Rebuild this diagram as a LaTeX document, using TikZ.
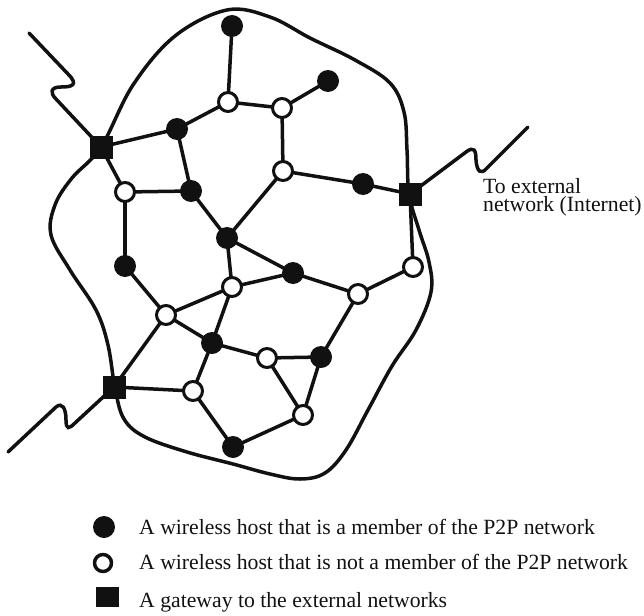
\documentclass[tikz,border=0pt]{standalone}
\usepackage{fontspec}
\setmainfont{Liberation Serif}
\pgfdeclarelayer{bg}
\pgfsetlayers{bg,main}
\definecolor{ink}{HTML}{111111}
\begin{document}
\begin{tikzpicture}[x=1pt,y=-1pt,
  line join=round,
  mem/.style={circle,fill=ink,minimum size=22pt,inner sep=0pt},
  non/.style={circle,draw=ink,fill=white,line width=3pt,minimum size=19pt,inner sep=0pt},
  gw/.style={rectangle,fill=ink,minimum size=23pt,inner sep=0pt},
  lbl/.style={font=\fontsize{21.7}{18}\selectfont,inner sep=0pt,anchor=base west,text=ink},
  wire/.style={draw=ink,line width=3.5pt},
  curve/.style={draw=ink,line width=3.5pt,line cap=round}
]
\useasboundingbox (0,0) rectangle (644,615);

% nodes
\node[mem] (F1) at (232,26) {};
\node[mem] (F2) at (328,81) {};
\node[non] (O1) at (228,102) {};
\node[non] (O2) at (282,108) {};
\node[mem] (F3) at (177,129) {};
\node[gw]  (G1) at (101,147) {};
\node[non] (O3) at (125,192) {};
\node[mem] (F4) at (191,191) {};
\node[non] (O4) at (283,171) {};
\node[mem] (F5) at (363,184) {};
\node[gw]  (G2) at (410,194) {};
\node[mem] (F6) at (227,238) {};
\node[mem] (F7) at (125,266) {};
\node[mem] (F8) at (293,273) {};
\node[non] (O5) at (232,287) {};
\node[non] (O6) at (166,315) {};
\node[non] (O7) at (413,267) {};
\node[non] (O8) at (358,294) {};
\node[mem] (F9) at (212,343) {};
\node[non] (O9) at (267,358) {};
\node[mem] (F10) at (321,357) {};
\node[gw]  (G3) at (114,387) {};
\node[non] (O10) at (193,391) {};
\node[non] (O11) at (303,415) {};
\node[mem] (F11) at (233,447) {};

\coordinate (E1) at (29,33);
\coordinate (E2) at (528,127);
\coordinate (E3) at (8,452);

\begin{pgfonlayer}{bg}
% boundary of the P2P network
\draw[curve] plot[smooth cycle, tension=0.6] coordinates {
  (227,10) (270,17) (310,38) (355,60) (390,83) (404,112) (407,150)
  (409,194) (419,230) (429,262) (431,292) (416,330) (392,366) (368,410)
  (346,450) (325,473) (300,479) (270,474) (233,464) (187,452) (145,437)
  (124,419) (115,388) (108,345) (96,310) (70,270) (51,235) (55,205)
  (72,178) (101,147) (133,85) (175,36)};

% links to external networks
\draw[curve] (E1) -- (68,74) .. controls (79,85) and (72,87) .. (61,87)
  .. controls (50,87) and (50,93) .. (56,99) -- (G1.center);
\draw[curve] (G2.center) -- (466,152) .. controls (474,146) and (476,150) .. (476,160)
  .. controls (477,172) and (481,175) .. (487,168) -- (E2);
\draw[curve] (G3.center) -- (75,423) .. controls (69,429) and (66,430) .. (66,420)
  .. controls (66,408) and (62,402) .. (56,407) -- (E3);

% wireless links
\foreach \a/\b in {F1/O1, O1/O2, O2/F2, O1/F3, G1/F3, F3/F4, G1/O3, O3/F4,
  O3/F7, F4/F6, O2/O4, O4/F6, O4/F5, F5/G2, G2/O7, O7/O8, O8/F8, F8/F6,
  F6/O5, O5/F8, F7/O6, O6/O5, O6/F9, O5/F9, G3/O6, G3/O10, F9/O10, F9/O9,
  O9/F10, O9/O11, F10/O11, O10/F11, F11/O11, O8/F10}
  \draw[wire] (\a.center) -- (\b.center);
\end{pgfonlayer}

% label of the external link
\node[lbl,anchor=north west,align=left] (t1) at (483,178.5) {To external\\network (Internet)};

% legend
\node[mem] (L1) at (104,527) {};
\node[non,line width=3.5pt,minimum size=17pt] (L2) at (103,563) {};
\node[gw,minimum width=23pt,minimum height=20pt] (L3) at (107,597) {};
\node[lbl] (l1) at (139,534) {A wireless host that is a member of the P2P network};
\node[lbl] (l2) at (139,569) {A wireless host that is not a member of the P2P network};
\node[lbl] (l3) at (139,607) {A gateway to the external networks};
\end{tikzpicture}
\end{document}
